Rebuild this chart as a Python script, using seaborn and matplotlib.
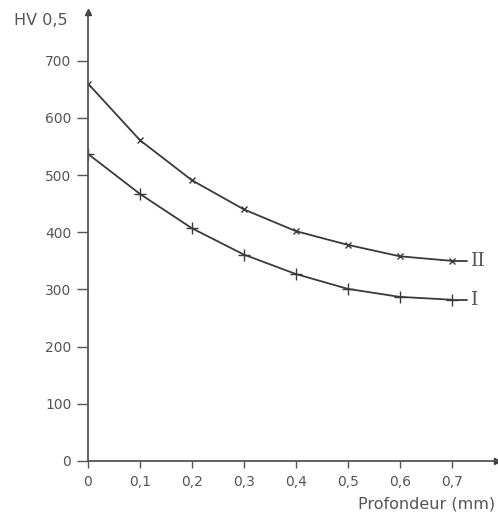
import numpy as np
import pandas as pd
import matplotlib
matplotlib.use('Agg')
import matplotlib.pyplot as plt
import seaborn as sns

# Données
profondeur = [0.0, 0.1, 0.2, 0.3, 0.4, 0.5, 0.6, 0.7]
hv_II = [660, 561, 491, 440, 402, 378, 358, 350]
hv_I = [537, 467, 407, 361, 327, 301, 287, 282]
y_ticks = [0, 100, 200, 300, 400, 500, 600, 700]
x_tick_labels = ['0', '0,1', '0,2', '0,3', '0,4', '0,5', '0,6', '0,7']

sns.set_style('white')
plt.rcParams['font.family'] = ['DejaVu Sans']

gris = '#555555'
trait = '#3a3a3a'

fig = plt.figure(figsize=(4.98, 5.13), dpi=100)
ax = fig.add_axes([0.1767, 0.1014, 0.821, 0.875])

df = pd.DataFrame({'Profondeur': profondeur, 'II': hv_II, 'I': hv_I})

sns.lineplot(data=df, x='Profondeur', y='II', ax=ax, color=trait, lw=1.3,
             marker='x', markersize=5, markeredgecolor=trait, markeredgewidth=1.0)
sns.lineplot(data=df, x='Profondeur', y='I', ax=ax, color=trait, lw=1.3,
             marker='+', markersize=8, markeredgecolor=trait, markeredgewidth=1.0)

# petits traits vers les étiquettes de courbe
ax.plot([profondeur[-1], 0.729], [hv_II[-1], hv_II[-1]], color=trait, lw=1.3)
ax.plot([profondeur[-1], 0.729], [hv_I[-1], hv_I[-1]], color=trait, lw=1.3)
ax.text(0.737, hv_II[-1], 'II', family='DejaVu Serif', fontsize=13.5, color=gris, va='center', ha='left')
ax.text(0.737, hv_I[-1], 'I', family='DejaVu Serif', fontsize=13.5, color=gris, va='center', ha='left')

ax.set_xlim(0, 0.787)
ax.set_ylim(0, 785)
ax.set_xticks(profondeur)
ax.set_xticklabels(x_tick_labels)
ax.set_yticks(y_ticks)
ax.set_xlabel('')
ax.set_ylabel('')

for s in ['top', 'right']:
    ax.spines[s].set_visible(False)
for s in ['left', 'bottom']:
    ax.spines[s].set_color(gris)
    ax.spines[s].set_linewidth(1.3)

ax.tick_params(axis='both', direction='out', width=1.0, color=gris,
               labelcolor=gris, labelsize=10, left=True, bottom=True)
ax.tick_params(axis='y', length=8, pad=4)
ax.tick_params(axis='x', length=5, pad=5)

# flèches au bout des axes
ax.plot(1, 0, '>', color=trait, markersize=5, transform=ax.get_yaxis_transform(), clip_on=False)
ax.plot(0, 1, '^', color=trait, markersize=5, transform=ax.get_xaxis_transform(), clip_on=False)

fig.text(0.028, 0.961, 'HV 0,5', fontsize=11.5, color=gris, va='center', ha='left')
fig.text(0.995, 0.017, 'Profondeur (mm)', fontsize=11.5, color=gris, va='center', ha='right')

fig.savefig('out.png', dpi=100)
